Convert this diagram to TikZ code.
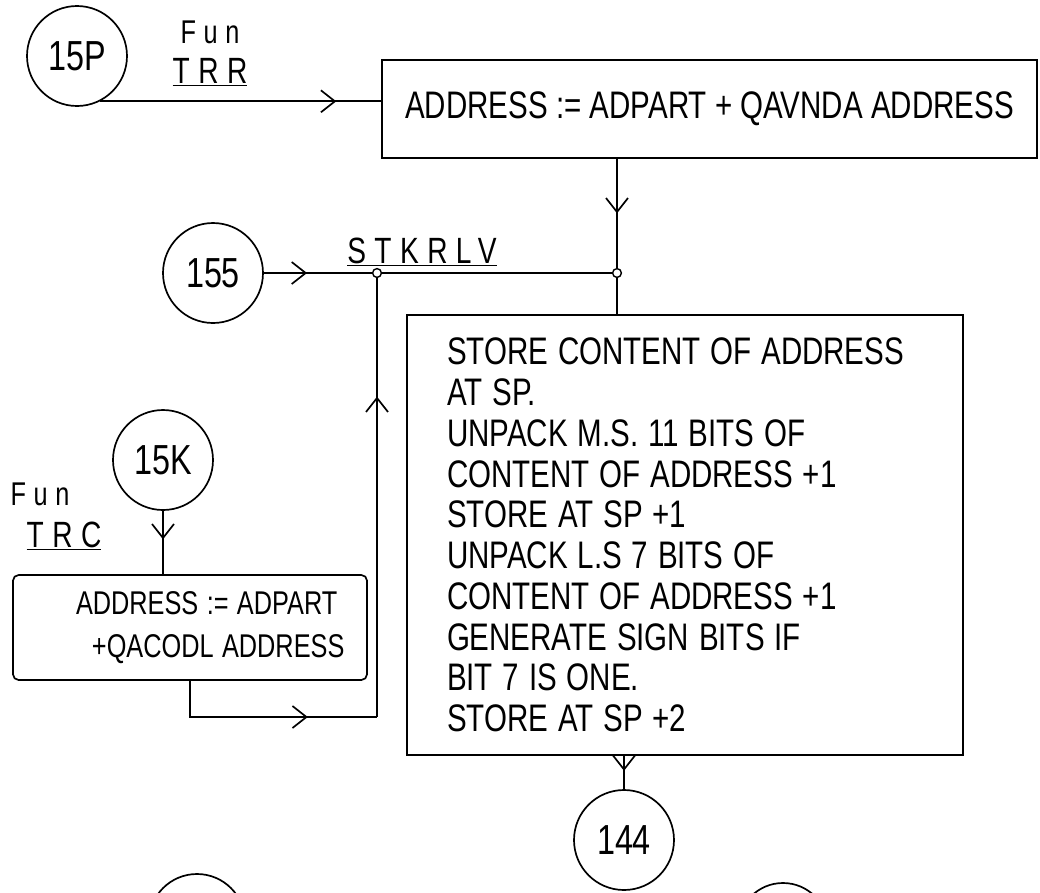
\documentclass[tikz,border=0pt]{standalone}
\usepackage{fontspec}
\usepackage{graphicx}
\setmainfont{Liberation Sans}
\usetikzlibrary{arrows.meta,positioning,calc,decorations.markings}
\newcommand{\tallt}[1]{\scalebox{1}[1.3]{#1}}

\begin{document}
\begin{tikzpicture}[
    state/.style={draw, circle, minimum size=2.5cm, inner sep=0pt, line width=1.2pt, font=\fontsize{23}{26}\selectfont},
    stepbox/.style={draw, line width=1.2pt, font=\fontsize{21}{29}\selectfont},
    lbl/.style={font=\fontsize{#1}{#1}\selectfont\addfontfeatures{LetterSpace=30}},
    joint/.style={draw, circle, minimum size=2.2mm, inner sep=0pt, line width=1pt},
    plain/.style={line width=1.2pt},
    flow/.style={line width=1.2pt, postaction={decorate}, decoration={markings, mark=at position #1 with {\arrow{Straight Barb[length=3.5mm,width=5.5mm]}}}},
    flow/.default=0.5,
]
\useasboundingbox (0,0) rectangle (26,-22.3);
\clip (0,0) rectangle (26,-22.3);

% Connectors in and out
\node[state] (c15p) at (1.925,-1.4) {\tallt{15P}};
\node[state] (c155) at (5.325,-6.825) {\tallt{155}};
\node[state] (c15k) at (4.075,-11.5) {\tallt{15K}};
\node[state] (c144) at (15.6,-21) {\tallt{144}};
\node[state, minimum size=2.4cm] (cleft) at (4.925,-23.05) {};
\node[state, minimum size=2.25cm] (cright) at (19.575,-23.2) {};

% Labels
\node[lbl=18] (fun1) at (5.25,-0.8) {\tallt{Fun}};
\node[lbl=20] (trr) at (5.25,-1.8) {\underline{\tallt{TRR}}};
\node[lbl=18] (fun2) at (1.0,-12.35) {\tallt{Fun}};
\node[lbl=20] (trc) at (1.6,-13.4) {\underline{\tallt{TRC}}};
\node[lbl=20] (stk) at (10.55,-6.3) {\underline{\tallt{STKRLV}}};

% Steps
\node[stepbox, minimum width=16.375cm, minimum height=2.45cm] (boxa) at (17.74,-2.725) {\tallt{ADDRESS := ADPART + QAVNDA ADDRESS}};
\node[stepbox, minimum width=13.9cm, minimum height=11cm, text width=11.9cm, inner xsep=1cm, align=left] (boxb) at (17.125,-13.375) {%
\tallt{STORE CONTENT OF ADDRESS}\\
\tallt{AT SP.}\\
\tallt{UNPACK M.S. 11 BITS OF}\\
\tallt{CONTENT OF ADDRESS +1}\\
\tallt{STORE AT SP +1}\\
\tallt{UNPACK L.S 7 BITS OF}\\
\tallt{CONTENT OF ADDRESS +1}\\
\tallt{GENERATE SIGN BITS IF}\\
\tallt{BIT 7 IS ONE.}\\
\tallt{STORE AT SP +2}};
\node[stepbox, font=\fontsize{18}{30.5}\selectfont, rounded corners=4pt, minimum width=8.85cm, minimum height=2.625cm, text width=7.8cm, inner xsep=0.525cm, align=left] (boxc) at (4.75,-15.6875) {%
\hspace*{1.05cm}\tallt{ADDRESS := ADPART}\\
\hspace*{1.45cm}\tallt{+QACODL ADDRESS}};

% Junctions
\node[joint] (j1) at (9.425,-6.825) {};
\node[joint] (j2) at (15.425,-6.825) {};
\coordinate (loop) at (9.425,-17.925);

% Arrows
\draw[flow=0.84] (c15p.-63) -- (c15p.-63 -| boxa.west);
\draw[flow] (j2 |- boxa.south) -- (j2);
\draw[flow=0.4] (c155) -- (j1);
\draw[plain] (j1) -- (j2);
\draw[plain] (j2) -- (j2 |- boxb.north);
\draw[flow=0.45] (c15k) -- (c15k |- boxc.north);
\draw[flow=0.69] (boxc.south) |- (loop);
\draw[flow=0.73] (loop) -- (j1);
\draw[flow=0.45] (c144 |- boxb.south) -- (c144);
\end{tikzpicture}
\end{document}
